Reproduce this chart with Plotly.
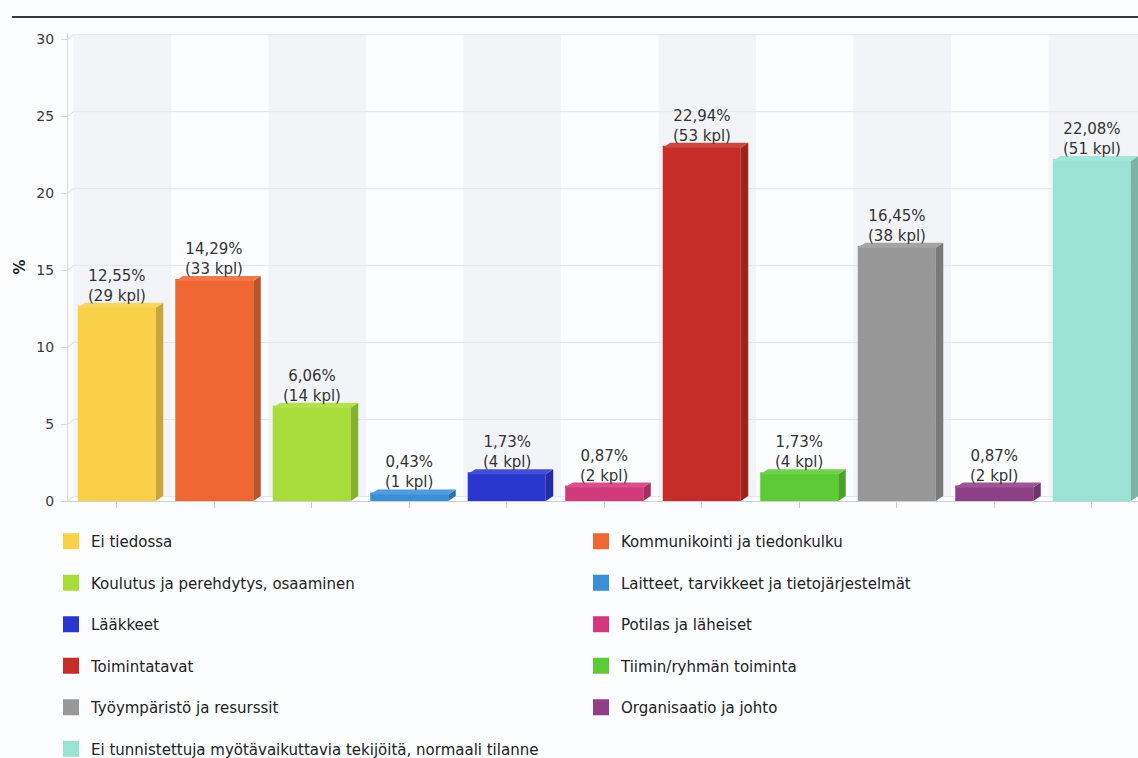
import plotly.graph_objects as go

# Category names, shares (%) and counts (kpl)
categories = [
    "Ei tiedossa",
    "Kommunikointi ja tiedonkulku",
    "Koulutus ja perehdytys, osaaminen",
    "Laitteet, tarvikkeet ja tietojärjestelmät",
    "Lääkkeet",
    "Potilas ja läheiset",
    "Toimintatavat",
    "Tiimin/ryhmän toiminta",
    "Työympäristö ja resurssit",
    "Organisaatio ja johto",
    "Ei tunnistettuja myötävaikuttavia tekijöitä, normaali tilanne",
]
percent = [12.55, 14.29, 6.06, 0.43, 1.73, 0.87, 22.94, 1.73, 16.45, 0.87, 22.08]
counts = [29, 33, 14, 1, 4, 2, 53, 4, 38, 2, 51]
colors = [
    "#f9d148", "#ee6733", "#a8dc3b", "#3a8fd8", "#2a37cf", "#d2397a",
    "#c62d29", "#5dcb36", "#989898", "#8e3f86", "#99e2d4",
]
y_ticks = [0, 5, 10, 15, 20, 25, 30]

# ---- geometry of the pseudo-3D look ----
W, H = 1138, 758
M_L, M_R, M_T, M_B = 68, 0, 33, 257
PX_PER_CAT = 97.5
Y_MAX = 30.4
plot_w = W - M_L - M_R
plot_h = H - M_T - M_B
px_y = plot_h / Y_MAX
x_range = [-0.5, -0.5 + plot_w / PX_PER_CAT]

BAR_GAP = 0.2
HW = (1 - BAR_GAP) / 2
EDGE = 4                   # outline width (px), also enlarges legend swatches
DX = 7.5 / PX_PER_CAT      # bar depth, x direction
DY = 5.0 / px_y            # bar depth, y direction
WDX = 5.5 / PX_PER_CAT     # back wall offset
WDY = 4.5 / px_y


def shade(hex_color, f):
    r, g, b = (int(hex_color[i:i + 2], 16) for i in (1, 3, 5))
    if f < 1:
        r, g, b = (int(c * f) for c in (r, g, b))
    else:
        r, g, b = (int(c + (255 - c) * (f - 1)) for c in (r, g, b))
    return "#%02x%02x%02x" % (r, g, b)


def paper_x(px):
    return (px - M_L) / plot_w


def paper_y(py):
    return (H - M_B - py) / plot_h


fig = go.Figure()
xs = list(range(len(categories)))

for i, (name, v, col) in enumerate(zip(categories, percent, colors)):
    leg = "legend" if i % 2 == 0 else "legend2"
    fig.add_trace(go.Bar(
        x=[i], y=[v], name=name, width=2 * HW - EDGE / PX_PER_CAT,
        marker=dict(color=col, line=dict(color=col, width=EDGE)),
        legend=leg, legendgroup=name,
        hovertemplate=f"{name}: %{{y:.2f}}%<extra></extra>",
    ))

for i, (name, v, col) in enumerate(zip(categories, percent, colors)):
    leg = "legend" if i % 2 == 0 else "legend2"
    # right side face
    fig.add_trace(go.Scatter(
        x=[i + HW, i + HW + DX, i + HW + DX, i + HW, i + HW],
        y=[0, DY, v + DY, v, 0],
        fill="toself", fillcolor=shade(col, 0.8), mode="lines",
        line=dict(width=0, color=shade(col, 0.8)),
        showlegend=False, hoverinfo="skip", legend=leg, legendgroup=name,
    ))
    # top face
    fig.add_trace(go.Scatter(
        x=[i - HW, i - HW + DX, i + HW + DX, i + HW, i - HW],
        y=[v, v + DY, v + DY, v, v],
        fill="toself", fillcolor=shade(col, 1.12), mode="lines",
        line=dict(width=0, color=shade(col, 1.12)),
        showlegend=False, hoverinfo="skip", legend=leg, legendgroup=name,
    ))

shapes = []
# alternating back-wall bands
for i in xs:
    shapes.append(dict(
        type="rect", layer="below", xref="x", yref="y",
        x0=i - 0.5 + WDX, x1=i + 0.5 + WDX, y0=WDY, y1=30 + WDY,
        fillcolor="#f3f4f7" if i % 2 == 0 else "#fcfdfe", line=dict(width=0),
    ))
# grid lines on the back wall, joined to the axis by short diagonals
for t in y_ticks:
    shapes.append(dict(
        type="line", layer="below", xref="x", yref="y",
        x0=-0.5 + WDX, x1=x_range[1], y0=t + WDY, y1=t + WDY,
        line=dict(color="#e4e5e8", width=1),
    ))
    shapes.append(dict(
        type="line", layer="below", xref="x", yref="y",
        x0=-0.5, x1=-0.5 + WDX, y0=t, y1=t + WDY,
        line=dict(color="#dcdcdc", width=1),
    ))
# dark rule above the chart
shapes.append(dict(
    type="line", xref="paper", yref="paper",
    x0=paper_x(12), x1=paper_x(W + 5), y0=paper_y(17), y1=paper_y(17),
    line=dict(color="#3a3a3a", width=2),
))

annotations = []
for i, (v, n) in enumerate(zip(percent, counts)):
    label = f"{v:.2f}".replace(".", ",") + "%<br>(" + f"{n} kpl)"
    annotations.append(dict(
        x=i, y=v + DY, xref="x", yref="y", text=label, showarrow=False,
        yanchor="bottom", xanchor="center", yshift=-4,
        font=dict(family="DejaVu Sans", size=15, color="#333333"),
    ))

legend_common = dict(
    orientation="v", traceorder="grouped", tracegroupgap=19,
    font=dict(family="DejaVu Sans", size=15, color="#222222"),
    bgcolor="rgba(0,0,0,0)", xanchor="left", yanchor="top",
)

fig.update_layout(
    width=W, height=H,
    margin=dict(l=M_L, r=M_R, t=M_T, b=M_B, autoexpand=False),
    paper_bgcolor="#fcfdfe", plot_bgcolor="#fcfdfe",
    font=dict(family="DejaVu Sans", color="#333333"),
    barmode="overlay", showlegend=True,
    shapes=shapes, annotations=annotations,
    legend=dict(x=paper_x(51), y=paper_y(525), **legend_common),
    legend2=dict(x=paper_x(581), y=paper_y(525), **legend_common),
    xaxis=dict(
        range=x_range, tickmode="array", tickvals=xs, ticktext=[""] * len(xs),
        showticklabels=False, ticks="outside", ticklen=6, tickcolor="#cccccc",
        showline=True, linecolor="#d0d0d0", linewidth=1,
        showgrid=False, zeroline=False, fixedrange=True,
    ),
    yaxis=dict(
        range=[0, Y_MAX], tickvals=y_ticks, ticks="outside", ticklen=6,
        tickcolor="#d8d8d8", ticklabelstandoff=4,
        tickfont=dict(family="DejaVu Sans", size=14, color="#3a3a3a"),
        showline=True, linecolor="#dcdcdc", linewidth=1,
        showgrid=False, zeroline=False, fixedrange=True,
        title=dict(text="<b>%</b>", standoff=7,
                   font=dict(family="DejaVu Sans", size=15, color="#222222")),
    ),
)

fig.write_html("out.html")
